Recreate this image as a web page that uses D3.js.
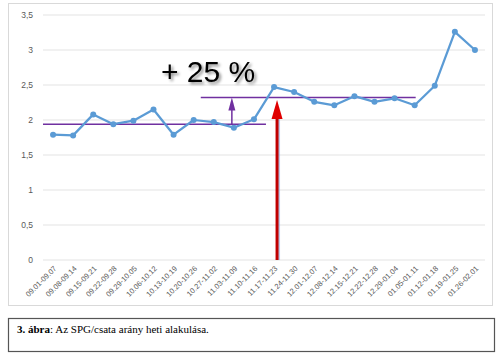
<!DOCTYPE html>
<html><head><meta charset="utf-8">
<script src="https://cdn.jsdelivr.net/npm/d3@7"></script>
<style>body{margin:0;background:#fff;}svg{display:block;}</style>
</head><body>
<svg id="c" width="500" height="360"></svg>
<script>
const categories = ["09.01-09.07","09.08-09.14","09.15-09.21","09.22-09.28","09.29-10.05","10.06-10.12","10.13-10.19","10.20-10.26","10.27-11.02","11.03-11.09","11.10-11.16","11.17-11.23","11.24-11.30","12.01-12.07","12.08-12.14","12.15-12.21","12.22-12.28","12.29-01.04","01.05-01.11","01.12-01.18","01.19-01.25","01.26-02.01"];
const ratio = [1.79,1.78,2.08,1.94,1.99,2.15,1.79,2.00,1.97,1.89,2.01,2.47,2.40,2.26,2.21,2.34,2.26,2.31,2.21,2.49,3.26,3.00];
const yTicks = [0,0.5,1,1.5,2,2.5,3,3.5];
const baseLevel = 1.94, baseFrom = "09.01-09.07", baseTo = "11.10-11.16";
const newLevel = 2.32, newFrom = "10.27-11.02", newTo = "01.05-01.11";
const markCat = "11.17-11.23", growthCat = "11.03-11.09";
const annotation = "+ 25 %";

const svg = d3.select("#c");
const defs = svg.append("defs");
const f = defs.append("filter").attr("id","sh").attr("x","-20%").attr("y","-30%").attr("width","140%").attr("height","160%");
f.append("feDropShadow").attr("dx",2).attr("dy",2).attr("stdDeviation",1.5).attr("flood-color","#000").attr("flood-opacity",0.45);

// outer chart frame
svg.append("rect").attr("x",8.5).attr("y",3.5).attr("width",484).attr("height",302)
  .attr("fill","#fff").attr("stroke","#d9d9d9");

const x = d3.scaleBand().domain(categories).range([43,485]);
const y = d3.scaleLinear().domain([0,3.5]).range([260,15]);
const cx = c => x(c) + x.bandwidth()/2;

// gridlines
svg.append("g").selectAll("line").data(yTicks).join("line")
  .attr("x1",43).attr("x2",485).attr("y1",d=>y(d)).attr("y2",d=>y(d))
  .attr("stroke","#e3e3e3").attr("stroke-width",1);

// y axis labels
const yAxis = d3.axisLeft(y).tickValues(yTicks).tickSize(0).tickPadding(0)
  .tickFormat(d => String(d).replace(".", ","));
const gy = svg.append("g").attr("transform","translate(33,0)").call(yAxis);
gy.select(".domain").remove();
gy.selectAll("text").attr("fill","#595959").style("font-family","'Liberation Sans', Arial, sans-serif").style("font-size","8.5px");

// x axis labels
const xAxis = d3.axisBottom(x).tickSize(0).tickPadding(0);
const gx = svg.append("g").attr("transform","translate(0,262)").call(xAxis);
gx.select(".domain").remove();
gx.selectAll("text").attr("fill","#595959")
  .style("font-family","'Liberation Sans', Arial, sans-serif").style("font-size","7.5px")
  .attr("text-anchor","end").attr("y",0).attr("dy",0).attr("dx",0)
  .attr("transform","translate(4,7) rotate(-45)");

// purple reference levels
svg.append("line").attr("x1",x(baseFrom)).attr("x2",cx(baseTo)+12)
  .attr("y1",y(baseLevel)).attr("y2",y(baseLevel)).attr("stroke","#7030a0").attr("stroke-width",1.5);
svg.append("line").attr("x1",cx(newFrom)-13).attr("x2",cx(newTo)+1)
  .attr("y1",y(newLevel)).attr("y2",y(newLevel)).attr("stroke","#7030a0").attr("stroke-width",1.5);

// data line
const line = d3.line().x((d,i)=>cx(categories[i])).y(d=>y(d));
svg.append("path").datum(ratio).attr("d",line).attr("fill","none")
  .attr("stroke","#5b9bd5").attr("stroke-width",2.25).attr("stroke-linejoin","round");
svg.append("g").selectAll("circle").data(ratio).join("circle")
  .attr("cx",(d,i)=>cx(categories[i])).attr("cy",d=>y(d)).attr("r",3)
  .attr("fill","#5b9bd5");

// purple growth arrow
const px = cx(growthCat) - 2;
svg.append("line").attr("x1",px).attr("x2",px).attr("y1",y(baseLevel)).attr("y2",y(newLevel)+10)
  .attr("stroke","#7030a0").attr("stroke-width",1.5);
svg.append("path").attr("d",`M${px},${y(newLevel)} L${px-3.5},${y(newLevel)+13} L${px+3.5},${y(newLevel)+13} Z`)
  .attr("fill","#7030a0");

// red arrow
const rx = cx(markCat) + 3;
const tipY = y(ratio[categories.indexOf(markCat)]) + 13;
svg.append("line").attr("x1",rx+1.5).attr("x2",rx+1.5).attr("y1",y(0)).attr("y2",tipY+15)
  .attr("stroke","#8eaadb").attr("stroke-width",3).attr("opacity",0.6);
svg.append("line").attr("x1",rx).attr("x2",rx).attr("y1",y(0)).attr("y2",tipY+15)
  .attr("stroke","#c00000").attr("stroke-width",3);
svg.append("path").attr("d",`M${rx},${tipY} L${rx-5.5},${tipY+19} L${rx+5.5},${tipY+19} Z`)
  .attr("fill","#e00000");

// annotation text with shadow
svg.append("text").attr("x",161).attr("y",82).text(annotation)
  .attr("fill","#000").attr("filter","url(#sh)")
  .style("font-family","'Liberation Sans', Arial, sans-serif").style("font-size","30px");

// caption box
svg.append("rect").attr("x",8.5).attr("y",318.5).attr("width",486).attr("height",33)
  .attr("fill","#fff").attr("stroke","#555").attr("stroke-width",1.2);
const cap = svg.append("text").attr("x",17).attr("y",333)
  .style("font-family","'Liberation Serif', 'Times New Roman', serif").style("font-size","11px").attr("fill","#000");
cap.append("tspan").attr("font-weight","bold").text("3. ábra");
cap.append("tspan").text(": Az SPG/csata arány heti alakulása.");
</script>
</body></html>
